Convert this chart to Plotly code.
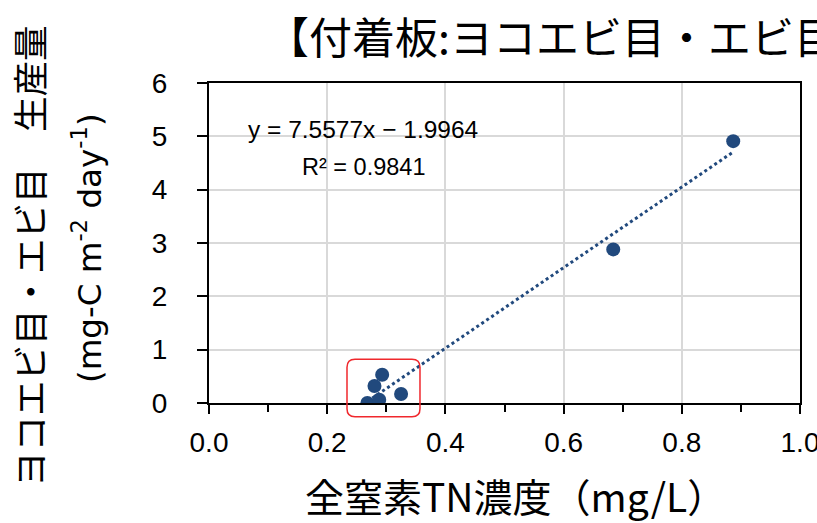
import numpy as np
import plotly.graph_objects as go

# Total nitrogen concentration (mg/L) vs. amphipod/decapod production
tn_conc = [0.268, 0.280, 0.288, 0.293, 0.325, 0.684, 0.887]
production = [0.00, 0.32, 0.06, 0.53, 0.17, 2.88, 4.91]

# Linear trendline coefficients and fit quality
slope, intercept, r2 = 7.5577, -1.9964, 0.9841

x_ticks = [0.0, 0.2, 0.4, 0.6, 0.8, 1.0]
y_ticks = [0, 1, 2, 3, 4, 5, 6]
x_range = [0.0, 1.0]
y_range = [0.0, 6.0]

# Low-concentration cluster highlighted with a box (data units)
cluster_box = dict(x0=0.2335, x1=0.357, y0=-0.26, y1=0.82)

BLUE = "#21497D"
JP_FONT = "Noto Sans CJK JP, sans-serif"
LATIN_FONT = "Liberation Sans, Arial, sans-serif"

W, H = 817, 523
M_L, M_R, M_T, M_B = 209, 17, 83, 120
PLOT_W, PLOT_H = W - M_L - M_R, H - M_T - M_B


def px_x(px):
    """Pixel column -> paper x."""
    return (px - M_L) / PLOT_W


def px_y(py):
    """Pixel row -> paper y."""
    return (H - M_B - py) / PLOT_H


def to_paper(v, rng):
    return (v - rng[0]) / (rng[1] - rng[0])


fig = go.Figure()

trend_x = np.array([min(tn_conc), max(tn_conc)])
fig.add_trace(go.Scatter(
    x=trend_x, y=slope * trend_x + intercept, mode="lines",
    line=dict(color=BLUE, width=3, dash="dot"), hoverinfo="skip",
    showlegend=False,
))
fig.add_trace(go.Scatter(
    x=tn_conc, y=production, mode="markers",
    marker=dict(color=BLUE, size=14), showlegend=False,
))

# Rounded highlight box, in paper units so it can extend below the axis
bx0, bx1 = to_paper(cluster_box["x0"], x_range), to_paper(cluster_box["x1"], x_range)
by0, by1 = to_paper(cluster_box["y0"], y_range), to_paper(cluster_box["y1"], y_range)
rx, ry = 8 / PLOT_W, 8 / PLOT_H
path = (
    f"M {bx0 + rx},{by0} L {bx1 - rx},{by0} Q {bx1},{by0} {bx1},{by0 + ry} "
    f"L {bx1},{by1 - ry} Q {bx1},{by1} {bx1 - rx},{by1} "
    f"L {bx0 + rx},{by1} Q {bx0},{by1} {bx0},{by1 - ry} "
    f"L {bx0},{by0 + ry} Q {bx0},{by0} {bx0 + rx},{by0} Z"
)
fig.add_shape(type="path", path=path, xref="paper", yref="paper",
              line=dict(color="#F0282D", width=1.5), layer="above")

# Trendline equation and R²
fig.add_annotation(
    x=0.2606, y=5.12, xref="x", yref="y", showarrow=False,
    xanchor="center", yanchor="middle",
    text=f"y = {slope}x − {abs(intercept)}",
    font=dict(family=LATIN_FONT, size=24.5, color="black"),
)
fig.add_annotation(
    x=0.2606, y=4.43, xref="x", yref="y", showarrow=False,
    xanchor="center", yanchor="middle",
    text=f"R² = {r2}",
    font=dict(family=LATIN_FONT, size=23.5, color="black"),
)

# Chart title (runs past the right edge of the canvas)
fig.add_annotation(
    x=px_x(264), y=px_y(35), xref="paper", yref="paper", showarrow=False,
    text="【付着板:ヨコエビ目・エビ目】", xanchor="left", yanchor="middle",
    font=dict(family=JP_FONT, size=43, color="black"),
)

# Axis titles
fig.add_annotation(
    x=px_x(515), y=px_y(495), xref="paper", yref="paper", showarrow=False,
    text="全窒素TN濃度（mg/L）", xanchor="center", yanchor="middle",
    font=dict(family=JP_FONT, size=39, color="black"),
)
fig.add_annotation(
    x=px_x(28), y=px_y(256), xref="paper", yref="paper", showarrow=False,
    text="ヨコエビ目・エビ目　生産量", textangle=-90,
    xanchor="center", yanchor="middle",
    font=dict(family=JP_FONT, size=35.5, color="black"),
)
fig.add_annotation(
    x=px_x(87), y=px_y(248), xref="paper", yref="paper", showarrow=False,
    text="(mg-C m<sup>-2</sup> day<sup>-1</sup>)", textangle=-90,
    xanchor="center", yanchor="middle",
    font=dict(family="DejaVu Sans, sans-serif", size=32.5, color="black"),
)

axis_common = dict(
    showline=True, linecolor="black", linewidth=2, mirror=True,
    showgrid=True, gridcolor="#D9D9D9", gridwidth=2,
    ticks="outside", tickcolor="black", tickwidth=2,
    tickfont=dict(family=LATIN_FONT, size=28, color="black"),
    zeroline=False, automargin=False, ticklabeloverflow="allow",
)
fig.update_xaxes(
    range=x_range, tickvals=x_ticks, ticktext=[f"{v:.1f}" for v in x_ticks],
    ticklen=9, ticklabelstandoff=4,
    minor=dict(dtick=0.1, ticks="outside", ticklen=7, tickcolor="black",
               tickwidth=2, showgrid=False),
    **axis_common,
)
fig.update_yaxes(
    range=y_range, tickvals=y_ticks, ticktext=[str(v) for v in y_ticks],
    ticklen=10, ticklabelstandoff=24,
    **axis_common,
)

fig.update_layout(
    width=W, height=H,
    margin=dict(l=M_L, r=M_R, t=M_T, b=M_B, autoexpand=False),
    paper_bgcolor="white", plot_bgcolor="white",
    showlegend=False,
)

fig.write_html("out.html")
